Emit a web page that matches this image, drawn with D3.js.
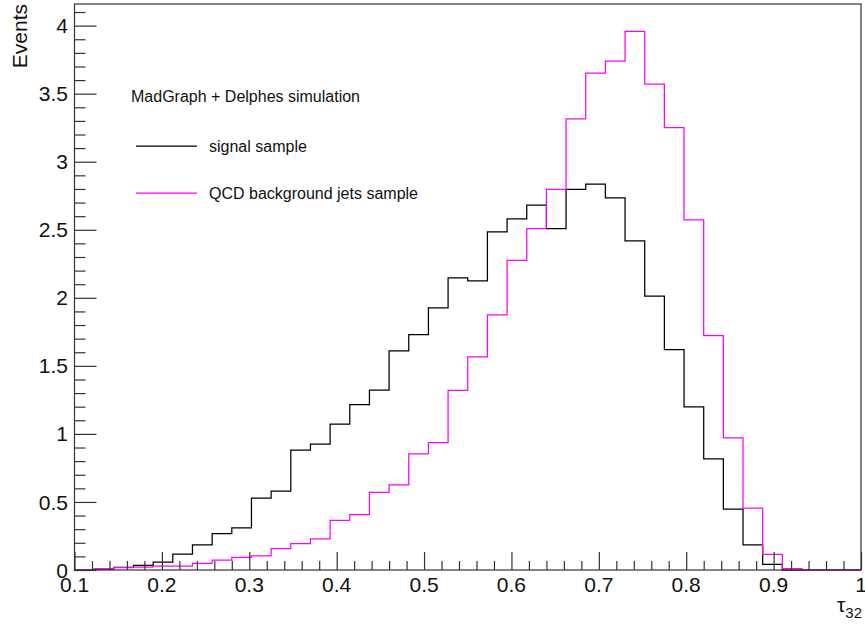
<!DOCTYPE html>
<html>
<head>
<meta charset="utf-8">
<script src="https://cdn.jsdelivr.net/npm/d3@7/dist/d3.min.js"></script>
<style>
  html, body { margin: 0; padding: 0; background: #fff; }
  svg { display: block; font-family: "Liberation Sans", Arial, Helvetica, sans-serif; }
</style>
</head>
<body>
<svg id="chart" width="865" height="628"></svg>
<script>
// Histogram binning: 40 bins from 0.1 to 1.0
const binLow = 0.1;
const binHigh = 1.0;
const nBins = 40;

// Bin contents
const signalValues = [
  0, 0.007, 0.02, 0.034, 0.058, 0.117, 0.184, 0.268, 0.31, 0.528,
  0.58, 0.88, 0.925, 1.072, 1.215, 1.322, 1.61, 1.73, 1.926, 2.146,
  2.124, 2.484, 2.58, 2.682, 2.509, 2.797, 2.836, 2.734, 2.418, 2.012,
  1.62, 1.198, 0.816, 0.448, 0.184, 0.041, 0, 0, 0, 0
];
const qcdValues = [
  0, 0.008, 0.018, 0.021, 0.029, 0.029, 0.049, 0.073, 0.093, 0.104,
  0.157, 0.193, 0.229, 0.364, 0.406, 0.57, 0.626, 0.853, 0.936, 1.32,
  1.566, 1.875, 2.276, 2.509, 2.797, 3.314, 3.651, 3.739, 3.957, 3.571,
  3.25, 2.572, 1.723, 0.971, 0.455, 0.115, 0.01, 0, 0, 0
];

const xMajorTicks = [0.1, 0.2, 0.3, 0.4, 0.5, 0.6, 0.7, 0.8, 0.9, 1.0];
const xTickLabels = ["0.1", "0.2", "0.3", "0.4", "0.5", "0.6", "0.7", "0.8", "0.9", "1"];
const yMajorTicks = [0, 0.5, 1, 1.5, 2, 2.5, 3, 3.5, 4];
const yTickLabels = ["0", "0.5", "1", "1.5", "2", "2.5", "3", "3.5", "4"];

const seriesNames = ["signal sample", "QCD background jets sample"];
const seriesColors = ["#000000", "#ff00ff"];
const legendHeader = "MadGraph + Delphes simulation";

const yMax = 4.159;

const svg = d3.select("#chart");
const frame = { left: 74.5, right: 861, top: 4, bottom: 570 };

const x = d3.scaleLinear().domain([binLow, binHigh]).range([frame.left, frame.right]);
const y = d3.scaleLinear().domain([0, yMax]).range([frame.bottom, frame.top]);

const binWidth = (binHigh - binLow) / nBins;
const edges = d3.range(nBins + 1).map(i => binLow + i * binWidth);

function histPath(vals) {
  const p = d3.path();
  p.moveTo(x(edges[0]), y(0));
  vals.forEach((v, i) => {
    p.lineTo(x(edges[i]), y(v));
    p.lineTo(x(edges[i + 1]), y(v));
  });
  p.lineTo(x(edges[nBins]), y(0));
  return p.toString();
}

const g = svg.append("g");

// histograms
[signalValues, qcdValues].forEach((vals, k) => {
  g.append("path")
    .attr("d", histPath(vals))
    .attr("fill", "none")
    .attr("stroke", seriesColors[k])
    .attr("stroke-width", 1.25)
    .attr("stroke-linejoin", "miter");
});

// frame
g.append("rect")
  .attr("x", frame.left).attr("y", frame.top)
  .attr("width", frame.right - frame.left)
  .attr("height", frame.bottom - frame.top)
  .attr("fill", "none").attr("stroke", "#333").attr("stroke-width", 1.2);

// X axis (major + minor ticks, inward)
const xAxisMajor = d3.axisTop(x).tickValues(xMajorTicks).tickSize(18).tickFormat("");
const xMinor = d3.range(0.12, 1.0, 0.02).filter(v => Math.abs(v * 10 - Math.round(v * 10)) > 1e-6);
const xAxisMinor = d3.axisTop(x).tickValues(xMinor).tickSize(9).tickFormat("");
[xAxisMajor, xAxisMinor].forEach(ax => {
  const a = g.append("g").attr("transform", `translate(0,${frame.bottom})`).call(ax);
  a.select(".domain").remove();
  a.selectAll("line").attr("stroke", "#333").attr("stroke-width", 1.2);
});
xMajorTicks.forEach((v, i) => {
  g.append("text")
    .attr("x", x(v)).attr("y", 592)
    .attr("text-anchor", "middle")
    .attr("font-size", 21)
    .attr("fill", "#111")
    .text(xTickLabels[i]);
});

// Y axis (major + minor ticks, inward)
const yAxisMajor = d3.axisRight(y).tickValues(yMajorTicks).tickSize(22).tickFormat("");
const yMinor = d3.range(0.1, 4.15, 0.1).filter(v => Math.abs(v * 2 - Math.round(v * 2)) > 1e-6);
const yAxisMinor = d3.axisRight(y).tickValues(yMinor).tickSize(11).tickFormat("");
[yAxisMajor, yAxisMinor].forEach(ax => {
  const a = g.append("g").attr("transform", `translate(${frame.left},0)`).call(ax);
  a.select(".domain").remove();
  a.selectAll("line").attr("stroke", "#333").attr("stroke-width", 1.2);
});
yMajorTicks.forEach((v, i) => {
  g.append("text")
    .attr("x", 68).attr("y", y(v))
    .attr("dy", "0.36em")
    .attr("text-anchor", "end")
    .attr("font-size", 21)
    .attr("fill", "#111")
    .text(yTickLabels[i]);
});

// axis titles
g.append("text")
  .attr("transform", "translate(27,4) rotate(-90)")
  .attr("text-anchor", "end")
  .attr("font-size", 21)
  .attr("fill", "#111")
  .text("Events");

const xt = g.append("text")
  .attr("x", 862).attr("y", 612)
  .attr("text-anchor", "end")
  .attr("font-size", 21)
  .attr("fill", "#111");
xt.append("tspan").text("τ");
xt.append("tspan").attr("dy", 6).attr("font-size", 15).text("32");

// legend
g.append("text")
  .attr("x", 131).attr("y", 102)
  .attr("font-size", 16)
  .attr("fill", "#111")
  .text(legendHeader);

const legendY = [146, 193];
seriesNames.forEach((name, k) => {
  g.append("line")
    .attr("x1", 136).attr("x2", 197)
    .attr("y1", legendY[k]).attr("y2", legendY[k])
    .attr("stroke", seriesColors[k]).attr("stroke-width", 1.25);
  g.append("text")
    .attr("x", 209).attr("y", legendY[k])
    .attr("dy", "0.36em")
    .attr("font-size", 16)
    .attr("fill", "#111")
    .text(name);
});
</script>
</body>
</html>
